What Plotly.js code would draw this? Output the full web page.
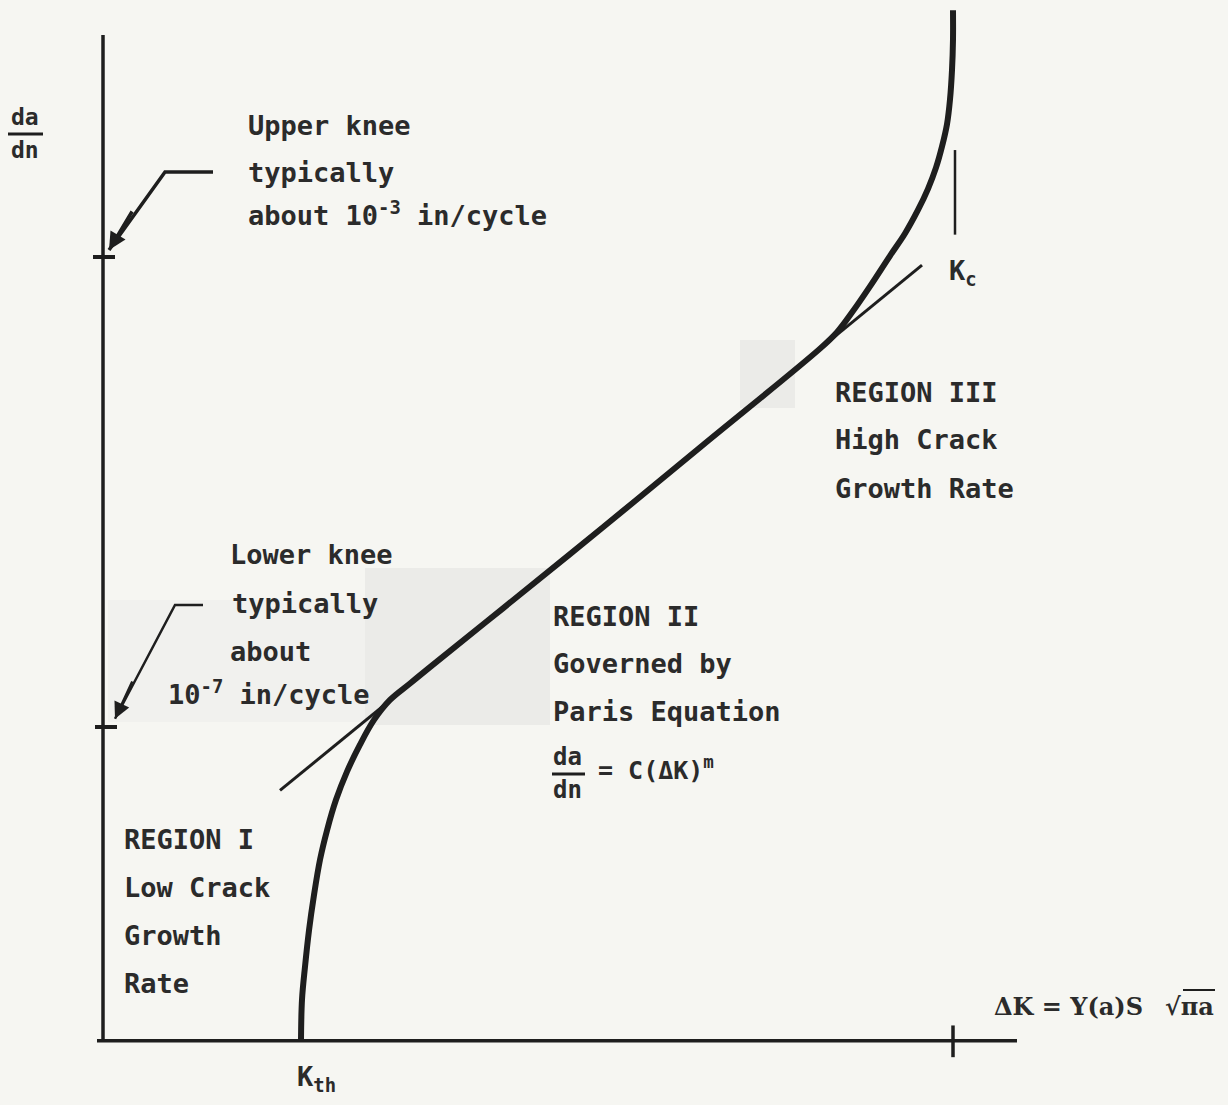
<!DOCTYPE html>
<html><head><meta charset="utf-8">
<script src="https://cdn.plot.ly/plotly-3.0.1.min.js"></script>
<style>html,body{margin:0;padding:0;background:#f6f6f2;}</style>
</head><body><div id="chart" style="width:1228px;height:1105px;"></div>
<script>
// Schematic crack-growth curve: x = ΔK (arbitrary units), y = da/dn (in/cycle, log scale)
// Sigmoidal curve (Regions I, II, III), values as log10(da/dn)
const curveDK    = [198, 199, 202, 206, 211, 217, 224, 233, 244, 257, 271, 287, 307, 327,
                    400, 500, 600,
                    717, 734, 750, 767, 787, 802, 815, 825, 833, 839, 844, 847, 849, 850, 850];
const curveLogDA = [-9.67, -9.32, -9.04, -8.73, -8.43, -8.13, -7.88, -7.62, -7.38, -7.15, -6.94, -6.77, -6.63, -6.49,
                    -5.99, -5.30, -4.60,
                    -3.78, -3.64, -3.46, -3.25, -2.99, -2.80, -2.60, -2.42, -2.24, -2.06, -1.87, -1.66, -1.41, -1.15, -0.90];
// Paris equation straight line
const parisDK    = [177, 819];
const parisLogDA = [-7.54, -3.07];
// Knee levels (log10 in/cycle)
const kneeLevels = [-3, -7];
const kneeLabels = ["10<sup>-3</sup>", "10<sup>-7</sup>"];
// Characteristic ΔK values
const Kth = 198, Kc = 850;
// Fracture toughness marker line (log10 range)
const kcMarkLog = [-2.09, -2.81];
// Axis extents
const axisTopLog = -1.11, axisBottomLog = -9.67, axisRightDK = 914;

const pow10 = a => a.map(v => Math.pow(10, v));
const INK = '#1e1e1e', TXT = '#2b2b2b';
const FONT = 'DejaVu Sans Mono, monospace';

// pixel helpers for layout placement (plot area = full page)
const PX = px => px / 1228, PY = py => 1 - py / 1105;

const traces = [
  {x: parisDK, y: pow10(parisLogDA), mode: 'lines', line: {color: INK, width: 3}, hoverinfo: 'skip'},
  {x: curveDK, y: pow10(curveLogDA), mode: 'lines', line: {color: INK, width: 6, shape: 'spline', smoothing: 1}, hoverinfo: 'skip'},
  // y axis
  {x: [0, 0], y: pow10([axisTopLog, axisBottomLog]), mode: 'lines', line: {color: INK, width: 3.5}, hoverinfo: 'skip'},
  // x axis
  {x: [-6, axisRightDK], y: pow10([axisBottomLog, axisBottomLog]), mode: 'lines', line: {color: INK, width: 3.5}, hoverinfo: 'skip'},
  // y ticks at knees
  {x: [-10, 12], y: pow10([kneeLevels[0], kneeLevels[0]]), mode: 'lines', line: {color: INK, width: 4}, hoverinfo: 'skip'},
  {x: [-8, 14], y: pow10([kneeLevels[1], kneeLevels[1]]), mode: 'lines', line: {color: INK, width: 4}, hoverinfo: 'skip'},
  // x tick at Kc
  {x: [Kc, Kc], y: pow10([-9.54, -9.81]), mode: 'lines', line: {color: INK, width: 3.5}, hoverinfo: 'skip'},
  // Kc vertical mark
  {x: [Kc + 2, Kc + 2], y: pow10(kcMarkLog), mode: 'lines', line: {color: INK, width: 2.5}, hoverinfo: 'skip'},
  // leader lines
  {x: [110, 62, 6], y: pow10([-2.277, -2.277, -2.94]), mode: 'lines', line: {color: INK, width: 3.5}, hoverinfo: 'skip'},
  {x: [100, 72, 12], y: pow10([-5.962, -5.962, -6.93]), mode: 'lines', line: {color: INK, width: 2.5}, hoverinfo: 'skip'}
];

function txt(s, px, py, size, extra) {
  return Object.assign({text: s, xref: 'paper', yref: 'paper', x: PX(px), y: PY(py), xanchor: 'left', yanchor: 'middle',
    showarrow: false, font: {family: FONT, size: size || 27, color: TXT, weight: 'bold'}}, extra || {});
}
const SERIF = {family: 'DejaVu Serif, serif', size: 24, color: TXT, weight: 'bold'};

const annotations = [
  txt('da', 9, 117, 23), txt('dn', 9, 150, 23),
  txt('Upper knee', 246, 125), txt('typically', 246, 172), txt('about ' + kneeLabels[0] + ' in/cycle', 246, 214),
  txt('K<sub>c</sub>', 947, 272),
  txt('REGION III', 833, 392), txt('High Crack', 833, 440), txt('Growth Rate', 833, 488),
  txt('Lower knee', 228, 554), txt('typically', 230, 604), txt('about', 228, 651), txt(kneeLabels[1] + ' in/cycle', 166, 692),
  txt('REGION II', 551, 616), txt('Governed by', 551, 663), txt('Paris Equation', 551, 711),
  txt('da', 551, 757, 24), txt('dn', 551, 790, 24), txt('= C(ΔK)<sup>m</sup>', 596, 768, 25),
  txt('REGION I', 122, 839), txt('Low Crack', 122, 887), txt('Growth', 122, 935), txt('Rate', 122, 984),
  txt('K<sub>th</sub>', 295, 1078),
  txt('ΔK = Y(a)S', 992, 1006, 24, {font: SERIF}),
  txt('√πa', 1163, 1006, 24, {font: SERIF}),
  // arrowheads at knee tips
  {x: 6, y: -2.94, xref: 'x', yref: 'y', ax: 30, ay: -2.6, axref: 'x', ayref: 'y', text: '', showarrow: true, arrowhead: 2, arrowsize: 1, arrowwidth: 3.5, arrowcolor: INK},
  {x: 12, y: -6.93, xref: 'x', yref: 'y', ax: 30, ay: -6.6, axref: 'x', ayref: 'y', text: '', showarrow: true, arrowhead: 2, arrowsize: 1.3, arrowwidth: 2.5, arrowcolor: INK}
];

const shapes = [
  // faint scan patches
  {type: 'rect', xref: 'paper', yref: 'paper', x0: PX(365), x1: PX(550), y0: PY(725), y1: PY(568), fillcolor: '#ebebe8', line: {width: 0}, layer: 'below'},
  {type: 'rect', xref: 'paper', yref: 'paper', x0: PX(108), x1: PX(365), y0: PY(722), y1: PY(600), fillcolor: '#f1f1ee', line: {width: 0}, layer: 'below'},
  {type: 'rect', xref: 'paper', yref: 'paper', x0: PX(740), x1: PX(795), y0: PY(408), y1: PY(340), fillcolor: '#ebebe8', line: {width: 0}, layer: 'below'},
  // fraction bars
  {type: 'line', xref: 'paper', yref: 'paper', x0: PX(8), x1: PX(43), y0: PY(134), y1: PY(134), line: {color: INK, width: 3}},
  {type: 'line', xref: 'paper', yref: 'paper', x0: PX(552), x1: PX(585), y0: PY(774), y1: PY(774), line: {color: INK, width: 3}},
  // overline of the square root
  {type: 'line', xref: 'paper', yref: 'paper', x0: PX(1183), x1: PX(1215), y0: PY(990), y1: PY(990), line: {color: INK, width: 2}}
];

const layout = {
  width: 1228, height: 1105, autosize: false,
  margin: {l: 0, r: 0, t: 0, b: 0},
  paper_bgcolor: '#f6f6f2', plot_bgcolor: '#f6f6f2',
  showlegend: false,
  xaxis: {range: [-103, 1125], visible: false, fixedrange: true},
  yaxis: {type: 'log', range: [-10.217, -0.813], visible: false, fixedrange: true},
  annotations: annotations, shapes: shapes
};

Plotly.newPlot('chart', traces, layout, {staticPlot: true, displayModeBar: false});
</script></body></html>
